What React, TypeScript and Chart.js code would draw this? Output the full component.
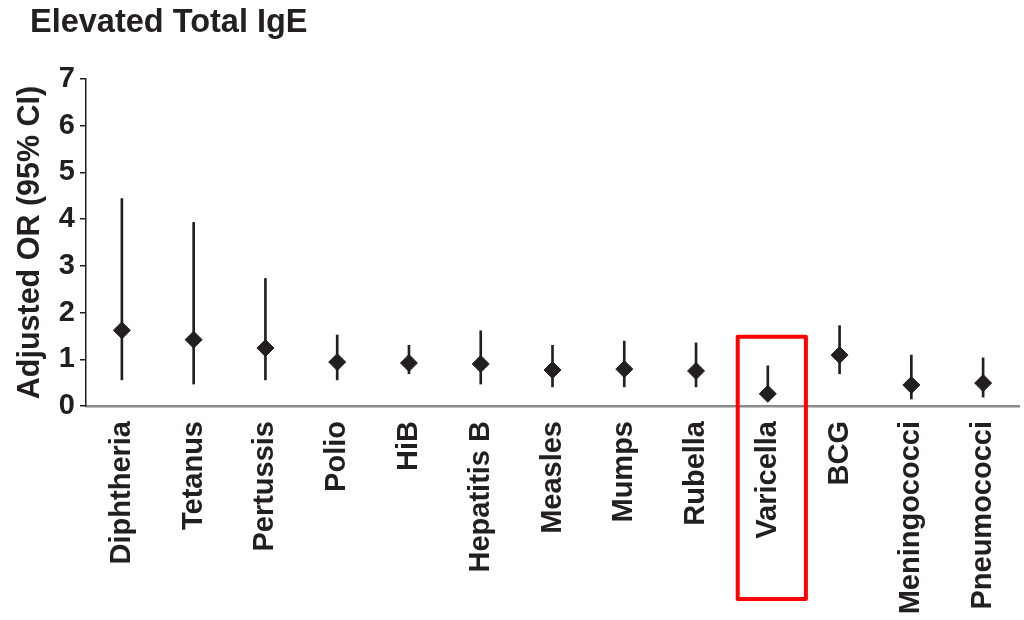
import React, { useEffect, useRef } from "react";
import { Chart, registerables } from "chart.js";

Chart.register(...registerables);

const categories = [
  "Diphtheria", "Tetanus", "Pertussis", "Polio", "HiB", "Hepatitis B",
  "Measles", "Mumps", "Rubella", "Varicella", "BCG", "Meningococci", "Pneumococci",
];
const oddsRatio = [1.62, 1.42, 1.24, 0.94, 0.92, 0.9, 0.77, 0.79, 0.75, 0.26, 1.09, 0.45, 0.49];
const ciLower = [0.56, 0.47, 0.56, 0.56, 0.69, 0.47, 0.41, 0.41, 0.41, 0.18, 0.69, 0.15, 0.19];
const ciUpper = [4.44, 3.93, 2.73, 1.52, 1.3, 1.61, 1.3, 1.39, 1.35, 0.86, 1.72, 1.09, 1.03];
const yTicks = [0, 1, 2, 3, 4, 5, 6, 7];
const chartTitle = "Elevated Total IgE";
const yTitle = "Adjusted OR (95% CI)";
const highlighted = "Varicella";
const highlightTop = 1.48;

const INK = "#231f20";
const FONT = "'Liberation Sans', Arial, Helvetica, sans-serif";

const titlePlugin = {
  id: "topTitle",
  afterDraw(chart: any) {
    const ctx = chart.ctx;
    ctx.save();
    ctx.fillStyle = INK;
    ctx.font = `bold 32.5px ${FONT}`;
    ctx.textBaseline = "alphabetic";
    ctx.textAlign = "left";
    ctx.fillText(chartTitle, 30, 32);
    ctx.restore();
  },
};

const highlightPlugin = {
  id: "highlightBox",
  afterDraw(chart: any) {
    const x = chart.scales.x;
    const y = chart.scales.y;
    const idx = categories.indexOf(highlighted);
    if (idx < 0) return;
    const cx = x.getPixelForValue(idx) + 4;
    const half = (x.width / categories.length) * 0.475;
    const top = y.getPixelForValue(highlightTop);
    const bottom = chart.height - 21;
    const ctx = chart.ctx;
    ctx.save();
    ctx.strokeStyle = "#ff0000";
    ctx.lineWidth = 4;
    ctx.lineJoin = "round";
    ctx.strokeRect(cx - half, top, half * 2, bottom - top);
    ctx.restore();
  },
};

export default function App() {
  const ref = useRef<HTMLCanvasElement>(null);
  useEffect(() => {
    document.body.style.margin = "0";
    const ctx = ref.current!.getContext("2d")!;
    const chart = new Chart(ctx, {
      type: "bar",
      data: {
        labels: categories,
        datasets: [
          {
            type: "line",
            data: oddsRatio,
            showLine: false,
            pointStyle: "rectRot",
            pointRadius: 8.5,
            pointBackgroundColor: INK,
            pointBorderColor: INK,
            pointBorderWidth: 1,
            order: 0,
          } as any,
          {
            type: "bar",
            data: ciLower.map((lo, i) => [lo, ciUpper[i]]),
            backgroundColor: INK,
            borderWidth: 0,
            barThickness: 2,
            order: 1,
          } as any,
        ],
      },
      options: {
        animation: false,
        responsive: false,
        maintainAspectRatio: false,
        layout: { autoPadding: false, padding: { left: 7, right: 5, top: 79, bottom: 0 } },
        plugins: {
          legend: { display: false },
          tooltip: { enabled: false },
          title: { display: false },
        },
        scales: {
          x: {
            type: "category",
            offset: true,
            grid: { display: false, drawTicks: false },
            border: { display: true, color: "#8a8a8a", width: 2.5 },
            ticks: {
              autoSkip: false,
              minRotation: 90,
              maxRotation: 90,
              padding: 15,
              color: INK,
              font: { family: FONT, weight: "bold", size: 29 },
            },
            afterFit: (s: any) => {
              s.height = 214;
              s.paddingLeft = 0;
              s.paddingRight = 0;
            },
          },
          y: {
            min: 0,
            max: 7,
            afterBuildTicks: (s: any) => {
              s.ticks = yTicks.map((v) => ({ value: v }));
            },
            ticks: {
              color: INK,
              padding: 5,
              font: { family: FONT, weight: "bold", size: 29 },
            },
            grid: { drawOnChartArea: false, color: INK, tickLength: 6, lineWidth: 1.5 },
            border: { display: true, color: INK, width: 1.5 },
            title: {
              display: true,
              text: yTitle,
              color: INK,
              padding: { top: 5, bottom: 0 },
              font: { family: FONT, weight: "bold", size: 30.5 },
            },
            afterFit: (s: any) => {
              s.width = 79;
            },
          },
        },
      },
      plugins: [titlePlugin, highlightPlugin],
    });
    return () => chart.destroy();
  }, []);
  return (
    <div style={{ width: 1024, height: 620 }}>
      <canvas ref={ref} width={1024} height={620} style={{ display: "block" }} />
    </div>
  );
}
